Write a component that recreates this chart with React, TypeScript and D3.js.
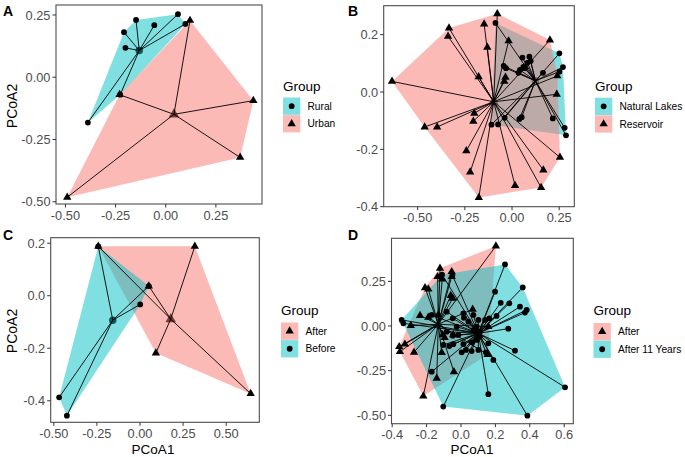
import React from "react";
import * as d3 from "d3";

type Pt = [number, number];

// ---------- Panel A ----------
const aGroupNames = ["Rural", "Urban"];
const aRural: Pt[] = [[-0.148, 0.230], [0.061, 0.253], [-0.057, 0.209], [-0.208, 0.181], [-0.201, 0.118], [0.098, 0.214], [-0.227, -0.070], [-0.388, -0.182]];
const aUrban: Pt[] = [[0.121, 0.228], [0.437, -0.094], [0.371, -0.322], [-0.491, -0.482], [-0.230, -0.070]];
const aCentroids: Pt[] = [[-0.132, 0.107], [0.041, -0.149]];
const aXTicks = [-0.5, -0.25, 0, 0.25];
const aXLabels = ["-0.50", "-0.25", "0.00", "0.25"];
const aYTicks = [0.25, 0, -0.25, -0.5];
const aYLabels = ["0.25", "0.00", "-0.25", "-0.50"];

// ---------- Panel B ----------
const bGroupNames = ["Natural Lakes", "Reservoir"];
const bLakes: Pt[] = [[-0.088, 0.241], [0.055, 0.12], [0.092, 0.123], [0.099, 0.108], [0.081, 0.102], [0.06, 0.088], [0.069, 0.083], [0.042, 0.077], [0.034, 0.067], [-0.044, 0.091], [-0.032, 0.083], [0.164, 0.067], [0.251, 0.135], [0.27, 0.087], [0.251, 0.071], [-0.039, -0.09], [-0.109, -0.114], [-0.074, -0.113], [0.039, -0.094], [0.051, -0.088], [0.216, -0.092], [0.279, -0.125], [0.286, -0.151]];
const bReservoir: Pt[] = [[-0.334, 0.223], [-0.339, 0.194], [-0.636, 0.037], [-0.177, 0.053], [-0.463, -0.122], [-0.397, -0.122], [-0.2, -0.074], [-0.205, -0.102], [-0.242, -0.205], [-0.222, -0.279], [-0.176, -0.368], [-0.078, 0.273], [-0.148, 0.237], [-0.131, 0.156], [-0.018, 0.178], [0.201, 0.181], [-0.035, 0.051], [-0.041, 0.037], [0.237, -0.008], [0.24, 0.056], [0.254, -0.228], [0.166, -0.272], [0.154, -0.333], [0.016, -0.326]];
const bCentroids: Pt[] = [[0.124, 0.039], [-0.097, -0.034]];
const bXTicks = [-0.5, -0.25, 0, 0.25];
const bXLabels = ["-0.50", "-0.25", "0.00", "0.25"];
const bYTicks = [0.2, 0, -0.2, -0.4];
const bYLabels = ["0.2", "0.0", "-0.2", "-0.4"];

// ---------- Panel C ----------
const cGroupNames = ["After", "Before"];
const cAfter: Pt[] = [[-0.242, 0.188], [0.318, 0.188], [0.092, -0.218], [0.642, -0.373], [0.051, 0.037]];
const cBefore: Pt[] = [[-0.242, 0.188], [0.051, 0.037], [0.001, -0.033], [-0.469, -0.387], [-0.424, -0.457]];
const cCentroids: Pt[] = [[0.178, -0.089], [-0.158, -0.093]];
const cXTicks = [-0.5, -0.25, 0, 0.25, 0.5];
const cXLabels = ["-0.50", "-0.25", "0.00", "0.25", "0.50"];
const cYTicks = [0.2, 0, -0.2, -0.4];
const cYLabels = ["0.2", "0.0", "-0.2", "-0.4"];

// ---------- Panel D ----------
const dGroupNames = ["After", "After 11 Years"];
const dAfter: Pt[] = [[0.203, 0.448], [-0.122, 0.323], [-0.136, 0.276], [-0.109, 0.263], [-0.054, 0.304], [-0.054, 0.276], [-0.209, 0.214], [-0.19, 0.207], [-0.06, 0.17], [-0.048, 0.155], [-0.238, 0.058], [-0.19, 0.049], [-0.132, 0.062], [0.068, 0.093], [-0.292, 0.002], [-0.106, -0.05], [-0.045, -0.05], [0.159, -0.004], [-0.112, -0.149], [-0.273, -0.147], [-0.359, -0.116], [-0.355, -0.144], [-0.326, -0.102], [0.155, -0.16], [-0.141, -0.293], [-0.041, -0.256], [-0.219, -0.392], [-0.095, -0.065]];
const dAfter11: Pt[] = [[0.256, 0.345], [0.359, 0.216], [0.198, 0.192], [0.231, 0.13], [0.281, 0.127], [0.343, 0.108], [0.382, 0.09], [0.372, 0.075], [0.207, 0.056], [0.275, -0.015], [0.314, -0.138], [0.188, -0.19], [0.605, -0.343], [0.386, -0.502], [0.159, -0.382], [-0.103, -0.451], [-0.17, -0.256], [-0.345, 0.034], [-0.335, 0.015], [-0.17, 0.062], [-0.083, 0.08], [-0.048, 0.043], [0.014, 0.071], [0.017, 0.046], [0.043, 0.024], [0.072, 0.062], [0.101, 0.034], [0.091, -0.004], [-0.025, -0.004], [-0.083, -0.032], [0.072, -0.022], [0.11, -0.032], [0.14, 0.034], [0.165, 0.043], [-0.048, -0.054], [-0.016, -0.05], [-0.103, -0.106], [-0.068, -0.112], [-0.045, -0.102], [0.014, -0.102], [0.062, -0.091], [0.091, -0.078], [0.11, -0.06], [0.159, -0.097], [0.004, -0.147], [0.029, -0.134], [0.062, -0.14], [0.101, -0.134], [0.145, -0.147], [-0.11, 0.287], [-0.05, 0.284]];
const dCentroids: Pt[] = [[-0.132, 0.01], [0.101, -0.041]];
const dXTicks = [-0.4, -0.2, 0, 0.2, 0.4, 0.6];
const dXLabels = ["-0.4", "-0.2", "0.0", "0.2", "0.4", "0.6"];
const dYTicks = [0.25, 0, -0.25, -0.5];
const dYLabels = ["0.25", "0.00", "-0.25", "-0.50"];

const PINK = "#F8766D";
const CYAN = "#00BFC4";
const FONT = "'Liberation Sans', Arial, Helvetica, sans-serif";

type Group = { name: string; points: Pt[]; centroid: Pt; color: string; shape: "circle" | "triangle" };
type PanelCfg = {
  letter: string;
  letterX: number;
  letterY: number;
  groups: Group[];
  xDomain: [number, number];
  yDomain: [number, number];
  rect: { x0: number; x1: number; y0: number; y1: number };
  xTicks: number[];
  xLabels: string[];
  yTicks: number[];
  yLabels: string[];
  xTitle?: { text: string; x: number };
  yTitle?: { text: string; y: number };
  legend: { x: number; titleY: number; keyY: number };
};

const panels: PanelCfg[] = [
  {
    letter: "A", letterX: 3, letterY: 16,
    groups: [
      { name: aGroupNames[0], points: aRural, centroid: aCentroids[0], color: CYAN, shape: "circle" },
      { name: aGroupNames[1], points: aUrban, centroid: aCentroids[1], color: PINK, shape: "triangle" },
    ],
    xDomain: [-0.547, 0.48], yDomain: [-0.509, 0.29],
    rect: { x0: 56, x1: 262, y0: 5, y1: 204 },
    xTicks: aXTicks, xLabels: aXLabels, yTicks: aYTicks, yLabels: aYLabels,
    yTitle: { text: "PCoA2", y: 106 },
    legend: { x: 283, titleY: 86, keyY: 97.5 },
  },
  {
    letter: "B", letterX: 348, letterY: 16,
    groups: [
      { name: bGroupNames[0], points: bLakes, centroid: bCentroids[0], color: CYAN, shape: "circle" },
      { name: bGroupNames[1], points: bReservoir, centroid: bCentroids[1], color: PINK, shape: "triangle" },
    ],
    xDomain: [-0.68, 0.33], yDomain: [-0.4, 0.301],
    rect: { x0: 383.7, x1: 574.3, y0: 5.7, y1: 206.7 },
    xTicks: bXTicks, xLabels: bXLabels, yTicks: bYTicks, yLabels: bYLabels,
    legend: { x: 595, titleY: 86, keyY: 97.7 },
  },
  {
    letter: "C", letterX: 3, letterY: 240,
    groups: [
      { name: cGroupNames[0], points: cAfter, centroid: cCentroids[0], color: PINK, shape: "triangle" },
      { name: cGroupNames[1], points: cBefore, centroid: cCentroids[1], color: CYAN, shape: "circle" },
    ],
    xDomain: [-0.518, 0.692], yDomain: [-0.482, 0.221],
    rect: { x0: 50.7, x1: 259.3, y0: 237.7, y1: 422.3 },
    xTicks: cXTicks, xLabels: cXLabels, yTicks: cYTicks, yLabels: cYLabels,
    xTitle: { text: "PCoA1", x: 153 },
    yTitle: { text: "PCoA2", y: 331 },
    legend: { x: 281, titleY: 310, keyY: 322.5 },
  },
  {
    letter: "D", letterX: 348, letterY: 240,
    groups: [
      { name: dGroupNames[0], points: dAfter, centroid: dCentroids[0], color: PINK, shape: "triangle" },
      { name: dGroupNames[1], points: dAfter11, centroid: dCentroids[1], color: CYAN, shape: "circle" },
    ],
    xDomain: [-0.404, 0.653], yDomain: [-0.547, 0.491],
    rect: { x0: 391.5, x1: 573.3, y0: 238.3, y1: 423.7 },
    xTicks: dXTicks, xLabels: dXLabels, yTicks: dYTicks, yLabels: dYLabels,
    xTitle: { text: "PCoA1", x: 472 },
    legend: { x: 593.5, titleY: 310, keyY: 323 },
  },
];

function symbolPath(shape: "circle" | "triangle", size: number) {
  return d3.symbol().type(shape === "circle" ? d3.symbolCircle : d3.symbolTriangle).size(size)() as string;
}

const PT_SIZE = { circle: 26, triangle: 30 };
const CEN_SIZE = { circle: 44, triangle: 48 };

function Panel({ p, idx }: { p: PanelCfg; idx: number }) {
  const x = d3.scaleLinear().domain(p.xDomain).range([p.rect.x0, p.rect.x1]);
  const y = d3.scaleLinear().domain(p.yDomain).range([p.rect.y1, p.rect.y0]);
  const { x0, x1, y0, y1 } = p.rect;
  const clipId = `clip${idx}`;
  const reversed = [...p.groups].reverse();
  return (
    <g>
      <defs>
        <clipPath id={clipId}>
          <rect x={x0} y={y0} width={x1 - x0} height={y1 - y0} />
        </clipPath>
      </defs>
      <g clipPath={`url(#${clipId})`}>
        {p.groups.map((g, i) => (
          <path key={"c" + i} d={symbolPath(g.shape, CEN_SIZE[g.shape])}
            transform={`translate(${x(g.centroid[0])},${y(g.centroid[1])})`} fill="#000" />
        ))}
        {p.groups.map((g, i) => {
          const hull = d3.polygonHull(g.points.map((q) => [x(q[0]), y(q[1])] as [number, number]));
          if (!hull) return null;
          return <path key={"h" + i} d={"M" + hull.map((h) => h.join(",")).join("L") + "Z"} fill={g.color} fillOpacity={0.5} />;
        })}
        {p.groups.map((g, i) =>
          g.points.map((q, j) => (
            <line key={`s${i}-${j}`} x1={x(g.centroid[0])} y1={y(g.centroid[1])} x2={x(q[0])} y2={y(q[1])}
              stroke="#000" strokeWidth={0.9} />
          ))
        )}
        {reversed.map((g, i) =>
          g.points.map((q, j) => (
            <path key={`p${i}-${j}`} d={symbolPath(g.shape, PT_SIZE[g.shape])}
              transform={`translate(${x(q[0])},${y(q[1])})`} fill="#000" />
          ))
        )}
      </g>
      <rect x={x0} y={y0} width={x1 - x0} height={y1 - y0} fill="none" stroke="#4d4d4d" strokeWidth={1.1} />
      {p.xTicks.map((t, i) => (
        <g key={"xt" + i}>
          <line x1={x(t)} x2={x(t)} y1={y1} y2={y1 + 3.5} stroke="#333" strokeWidth={1} />
          <text x={x(t)} y={y1 + 15.5} textAnchor="middle" fontSize={12.8} fill="#4D4D4D" fontFamily={FONT}>{p.xLabels[i]}</text>
        </g>
      ))}
      {p.yTicks.map((t, i) => (
        <g key={"yt" + i}>
          <line x1={x0 - 3.5} x2={x0} y1={y(t)} y2={y(t)} stroke="#333" strokeWidth={1} />
          <text x={x0 - 5.5} y={y(t)} dy="0.36em" textAnchor="end" fontSize={12.8} fill="#4D4D4D" fontFamily={FONT}>{p.yLabels[i]}</text>
        </g>
      ))}
      {p.xTitle && (
        <text x={p.xTitle.x} y={454.2} textAnchor="middle" fontSize={13.5} fill="#000" fontFamily={FONT}>{p.xTitle.text}</text>
      )}
      {p.yTitle && (
        <text transform={`translate(17,${p.yTitle.y}) rotate(-90)`} textAnchor="middle" fontSize={14} fill="#000" fontFamily={FONT}>{p.yTitle.text}</text>
      )}
      <text x={p.letterX} y={p.letterY} fontSize={14} fontWeight="bold" fill="#000" fontFamily={FONT}>{p.letter}</text>
      <text x={p.legend.x} y={p.legend.titleY} dy="0.36em" fontSize={13.5} fill="#000" fontFamily={FONT}>Group</text>
      {p.groups.map((g, i) => {
        const ky = p.legend.keyY + i * 17.6;
        return (
          <g key={"lg" + i}>
            <rect x={p.legend.x} y={ky} width={17.3} height={17.3} fill={g.color} fillOpacity={0.5} />
            <path d={symbolPath(g.shape, PT_SIZE[g.shape])} transform={`translate(${p.legend.x + 8.65},${ky + 8.65})`} fill="#000" />
            <text x={p.legend.x + 24.5} y={ky + 8.65} dy="0.36em" fontSize={10.2} fill="#000" fontFamily={FONT}>{g.name}</text>
          </g>
        );
      })}
    </g>
  );
}

export default function App() {
  return (
    <svg width={685} height={457} viewBox="0 0 685 457"
      style={{ position: "absolute", left: 0, top: 0, display: "block", background: "#fff" }}>
      <rect x={0} y={0} width={685} height={457} fill="#fff" />
      {panels.map((p, i) => (
        <Panel key={i} p={p} idx={i} />
      ))}
    </svg>
  );
}
